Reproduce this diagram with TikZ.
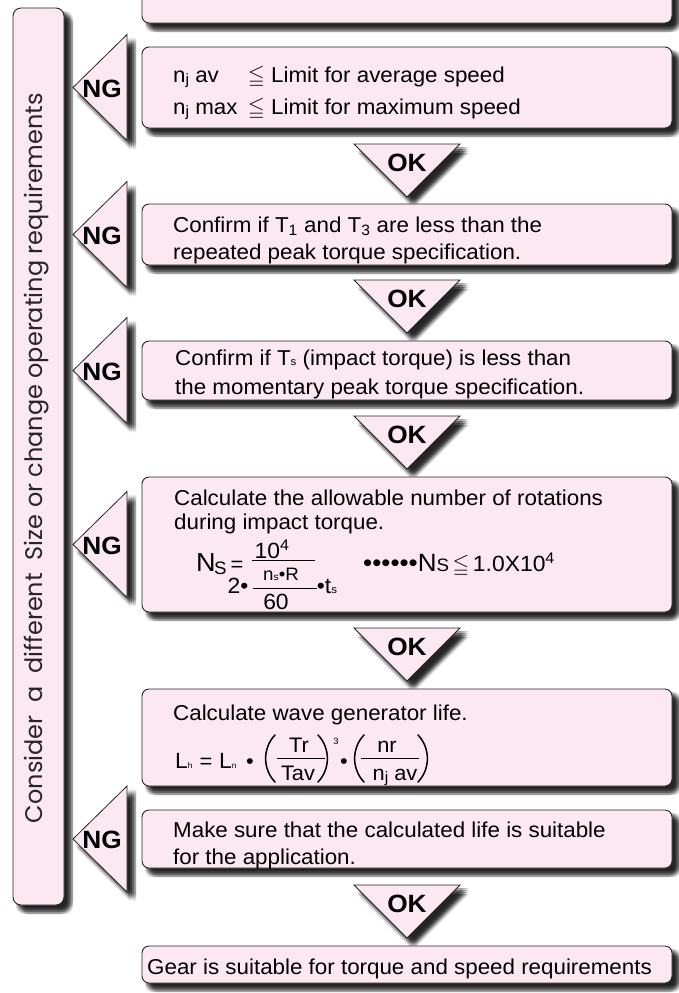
\documentclass[tikz,border=0pt]{standalone}
\usepackage{fontspec}
\usepackage{amssymb}
\usepackage{graphicx}
\setmainfont{Liberation Sans}[FakeStretch=1.04]
\newfontfamily\lblfont{Liberation Sans}[FakeStretch=1.05]
\newfontfamily\sidefont{Poppins}
\definecolor{boxpink}{RGB}{252,232,240}
\pgfdeclarelayer{shadowlayer}
\pgfsetlayers{shadowlayer,main}
\newcommand\fs[1]{\fontsize{#1pt}{#1pt}\selectfont}
\newcommand\sj{\raisebox{-2.5pt}{\fs{15}j}}
\newcommand\softshadow[1]{%
  \begin{pgfonlayer}{shadowlayer}%
  \foreach \dx in {3,5,7,9}{\foreach \dy in {3,5,7,9}{%
    \fill[black,opacity=0.11,shift={(\dx,\dy)}] #1;}}%
  \end{pgfonlayer}}
\tikzset{
  box/.style={draw=black!85, line width=0.9pt, fill=boxpink, rounded corners=7pt, inner sep=0pt},
  tri/.style={draw=black!85, line width=0.8pt, fill=boxpink, line join=miter},
  lbl/.style={font=\lblfont\bfseries\fs{25}, inner sep=0pt},
  txt/.style={anchor=base west, inner sep=0pt, font=\fs{21.5}},
  fr/.style={anchor=base, inner sep=0pt, font=\fs{21}},
  bar/.style={line width=0.8pt},
  paren/.style={line width=1.5pt, line cap=round},
}
\newcommand\flowbox[5]{%
  \softshadow{[rounded corners=7pt] (#2-#4/2,#3-#5/2) rectangle (#2+#4/2,#3+#5/2)}
  \node[box, minimum width=#4pt, minimum height=#5pt] (#1) at (#2,#3) {};}
\newcommand\ngtri[2]{%
  \softshadow{(73,#2) -- (127,#2-53) -- (127,#2+53) -- cycle}
  \draw[tri] (73,#2) -- (127,#2-53) -- (127,#2+53) -- cycle;
  \node[lbl] (#1) at (102,#2+1) {NG};}
\newcommand\oktri[2]{%
  \softshadow{(354,#2) -- (460,#2) -- (407,#2+53) -- cycle}
  \draw[tri] (354,#2) -- (460,#2) -- (407,#2+53) -- cycle;
  \node[lbl] (#1) at (407,#2+19) {OK};}
\begin{document}
\begin{tikzpicture}[x=1pt, y=-1pt]
\begin{pgfonlayer}{shadowlayer}
\fill[white] (0,0) rectangle (678,993);
\end{pgfonlayer}
\useasboundingbox (0,0) rectangle (678,993);

% left box
\softshadow{[rounded corners=8pt] (13,8) rectangle (64,905)}
\node[box, rounded corners=8pt, minimum width=51pt, minimum height=897pt] (side) at (38.5,456.5) {};
\node[rotate=90, inner sep=0pt, text=black!85] (sidetext) at (37,458)
  {\resizebox{730pt}{!}{\sidefont Consider\ \ a\ \ different\ \ Size or change operating requirements}};

% boxes
\flowbox{b1}{407}{-3.5}{530}{53}
\flowbox{b2}{407}{87.5}{530}{81}
\flowbox{b3}{407}{234.5}{530}{61}
\flowbox{b4}{407}{370.5}{530}{59}
\flowbox{b5}{407}{544.5}{530}{135}
\flowbox{b6}{407}{737.5}{530}{97}
\flowbox{b7}{407}{839}{530}{58}
\flowbox{b8}{407}{964.5}{530}{37}

% NG triangles
\ngtri{ng1}{87.5}
\ngtri{ng2}{234.5}
\ngtri{ng3}{370.5}
\ngtri{ng4}{544.5}
\ngtri{ng5}{839}

% OK triangles
\oktri{ok1}{144}
\oktri{ok2}{280}
\oktri{ok3}{416}
\oktri{ok4}{628}
\oktri{ok5}{885}

% box 2
\node[txt] (t2a) at (173,82) {\makebox[75pt][l]{n\sj\ av}$\leqq$ Limit for average speed};
\node[txt] (t2b) at (173,114) {\makebox[75pt][l]{n\sj\ max}$\leqq$ Limit for maximum speed};

% box 3
\node[txt] (t3a) at (173,232) {Confirm if T\textsubscript{1} and T\textsubscript{3} are less than the};
\node[txt] (t3b) at (173,259) {repeated peak torque specification.};

% box 4
\node[txt] (t4a) at (175,365) {Confirm if T{\fs{11}s} (impact torque) is less than};
\node[txt] (t4b) at (175,394) {the momentary peak torque specification.};

% box 5
\node[txt] (t5a) at (174,505) {Calculate the allowable number of rotations};
\node[txt] (t5b) at (174,529) {during impact torque.};
\node[txt, font=\fs{26}] (nsa) at (196,571) {N};
\node[anchor=base west, inner sep=0pt, font=\fs{18}] (nsb) at (214,574) {S};
\node[fr, font=\fs{21}] (nseq) at (237,571) {=};
\node[fr, font=\fs{22}] (num) at (272,558) {10\textsuperscript{4}};
\coordinate (mb1) at (252,560); \coordinate (mb2) at (315,560);
\draw[bar] (mb1) -- (mb2);
\node[fr, font=\fs{18}] (nsr) at (281,580) {n{\fs{10}s}•R};
\node[fr, font=\fs{22}] (two) at (238,593) {2•};
\coordinate (ib1) at (253,588); \coordinate (ib2) at (317,588);
\draw[bar] (ib1) -- (ib2);
\node[fr, font=\fs{22}] (sixty) at (276,609) {60};
\node[fr, font=\fs{22}] (tss) at (327,593) {•t{\fs{11}s}};
\node[txt] (nsc) at (363,571) {{\fs{25}••••••N}{\fs{18}S}\,$\leqq$\,{\fs{22}1.0X10\textsuperscript{4}}};

% box 6
\node[txt] (t6a) at (173,720) {Calculate wave generator life.};
\node[txt, font=\fs{22}] (lh) at (175,768) {L{\fs{8}h}};
\node[fr, font=\fs{21}] (eq6) at (206,768) {=};
\node[txt, font=\fs{22}] (ln) at (219,768) {L{\fs{8}n}};
\node[fr, font=\fs{21}] (dot6a) at (250,768) {•};
\draw[paren] (275,735) .. controls (262.5,748) and (262.5,769) .. (275,782);
\draw[paren] (318,735) .. controls (330.5,748) and (330.5,769) .. (318,782);
\node[fr] (tr) at (299,752) {Tr};
\coordinate (fb1) at (277,758); \coordinate (fb2) at (325,758);
\draw[bar] (fb1) -- (fb2);
\node[fr] (tav) at (298,780) {Tav};
\node[inner sep=0pt, font=\fs{9}] (cube) at (336,741) {3};
\node[fr, font=\fs{21}] (dot6b) at (344,768) {•};
\draw[paren] (364,735) .. controls (351.5,748) and (351.5,769) .. (364,782);
\draw[paren] (418,735) .. controls (430.5,748) and (430.5,769) .. (418,782);
\node[fr] (nr) at (387,752) {nr};
\coordinate (fb3) at (361,758); \coordinate (fb4) at (419,758);
\draw[bar] (fb3) -- (fb4);
\node[fr] (njav) at (395,780) {n\sj\ av};

% box 7
\node[txt] (t7a) at (173,837) {Make sure that the calculated life is suitable};
\node[txt] (t7b) at (173,864) {for the application.};

% box 8
\node[txt] (t8) at (147,974) {Gear is suitable for torque and speed requirements};
\end{tikzpicture}
\end{document}
